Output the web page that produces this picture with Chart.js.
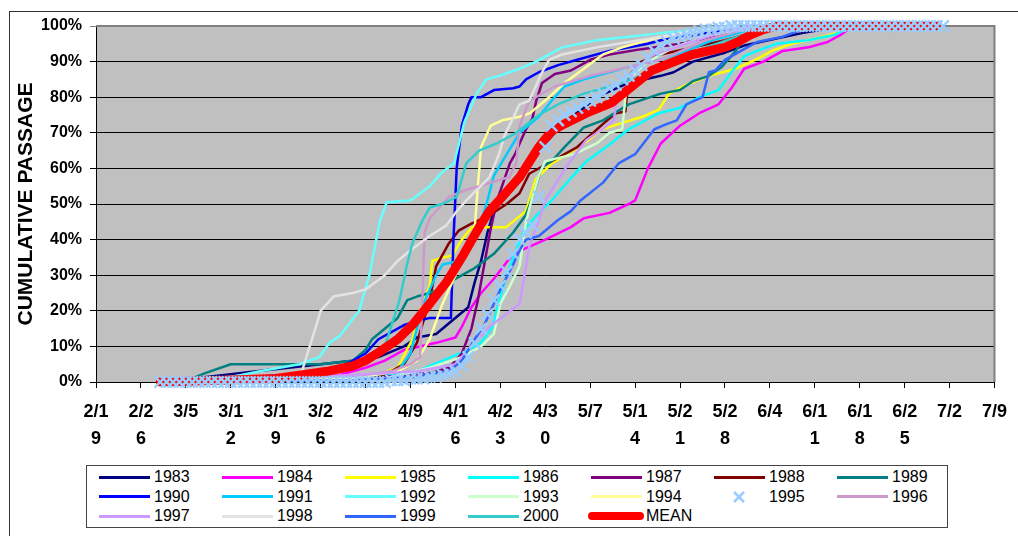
<!DOCTYPE html>
<html>
<head>
<meta charset="utf-8">
<script src="https://cdn.jsdelivr.net/npm/chart.js@4.4.1/dist/chart.umd.min.js"></script>
<style>
  html, body { margin: 0; padding: 0; background: #fff; overflow: hidden; }
  body { width: 1018px; height: 536px; position: relative; font-family: "Liberation Sans", Arial, sans-serif; }
  #frame { position: absolute; left: 9px; top: 11px; width: 1100px; height: 600px; border-left: 1px solid #333; border-top: 1px solid #333; }
  #wrap { position: absolute; left: 0; top: 0; width: 1018px; height: 536px; }
  #legend { position: absolute; left: 86px; top: 465px; width: 860px; height: 61px; border: 1px solid #444; background: #fff; }
  #legend .txt { position: absolute; font-size: 16px; line-height: 20px; color: #000; white-space: nowrap; }
  #legend .smp { position: absolute; }
</style>
</head>
<body>
<div id="frame"></div>
<div id="wrap"><canvas id="c" width="1018" height="536"></canvas></div>
<div id="legend"></div>
<script>
// x = days after 2/19, y = cumulative passage in %
const tickLabels = ['2/19','2/26','3/5','3/12','3/19','3/26','4/2','4/9','4/16','4/23','4/30',
                    '5/7','5/14','5/21','5/28','6/4','6/11','6/18','6/25','7/2','7/9'];

const s1983 = [[10,0],[15,1],[20,2],[25,3],[30,4],[35,5],[40,6],[44,7],[48,10],[50,12.5],[53,13.5],[55,16.5],
  [58,21],[59,28],[60,34],[61,42],[62,48],[63,51],[66,58],[70,67],[73,73],[76,77],[78,80],[83,84],[88,86],
  [90,87],[93,90],[98,92.5],[101,94.5],[106,96.5],[110,98],[115,99.5],[118,100]];
const s1984 = [[10,0],[30,1],[38,2],[42,4],[45,6],[48,9],[53,11],[56,12.5],[57,15.5],[58.5,21],[60,25],[62,29],
  [65,36],[70,40],[74,43.5],[76,46],[80,47.5],[83,50],[84,51],[86,60],[88,67],[91,72],[94,75.5],[97,78],
  [99,82.5],[101,88],[104,90],[107,93],[111,94],[114,95.5],[116,97.5],[118,100]];
const s1985 = [[10,0],[35,0.5],[44,2],[47,4],[49.3,12],[50.5,20],[52,27],[52.4,34],[54,35],[55.5,35.5],[57,40],
  [58.6,43.5],[63.9,43.5],[67,48],[67.5,51],[68.5,57],[71.1,61.5],[75.3,66],[78.9,71],[81.5,72.5],[85.1,74.5],
  [87.7,76.5],[89.3,81],[92,83.5],[95.5,86],[99.7,88],[103.3,91],[105.3,93],[108.4,95],[112.2,96.5],[115.3,98],[118,100]];
const s1986 = [[10,0],[40,1],[50,3],[54,6],[58,9],[60,11],[61.8,15.5],[62.4,20],[63.5,27],[65,35],[66.8,43],
  [68.5,46.5],[71,51],[74.1,57.5],[76.4,62],[79.5,66],[83,71],[87.7,75.5],[91,77],[94,80],[97,82],[99,87],
  [101,91.5],[103,93],[106,95],[111,96],[115,97.5],[118,100]];
const s1987 = [[10,0],[35,1],[45,1.5],[52,2.5],[55,4],[57,8],[58.5,15],[59.5,23],[60.5,33],[61.5,43],[62.5,51],
  [64.5,61.5],[65.3,64],[66,67],[67,71],[68,74],[68.6,79],[69.5,84],[71.5,86.5],[74,87.5],[77,90.5],[80,92],
  [85,93.5],[91,95],[96,97],[100,99],[104,100]];
const s1988 = [[10,0],[40,1],[45,2],[48,5],[50,11],[52,23],[53,32.5],[55,39],[56.5,42.5],[58.5,44.5],[61,46.5],
  [64,50],[66,53],[67.5,58.5],[71,62],[75,66],[79,72.5],[81,75.5],[82.5,76],[83,86],[84,88],[85,90],[88,92],
  [93,94],[98,96],[102,98],[106,100]];
const s1989 = [[10,0],[15,1],[17,2.5],[21,5],[35,5],[40,6],[42,9],[43,12],[44,13.5],[47,18],[48.5,23],[50,24],
  [52,25],[53.5,26],[55,28],[59,32],[62,36],[65,42],[67,47],[68,52],[69.5,60.5],[71,62],[73,66],[76,71.5],
  [79,73.5],[83,78],[88,81],[91,82],[93,84.5],[95.5,86],[97.5,88.5],[99.7,93],[100.7,96],[104,99],[108,100]];
const s1990 = [[10,0],[30,2],[38,4],[42,8],[44,12],[48,16],[52,18],[55.3,18],[55.7,40],[56.2,60],[57,72],[58,78],
  [58.5,80],[60,80],[62,82],[65,82.5],[66,83],[67,85],[69,87],[72,89],[75,90.5],[80,93],[86,95],[88,96],
  [95,98],[100,99],[104,100]];
const s1991 = [[10,0],[40,1],[47,3],[49,8],[50,15],[51,22],[53,30],[54,33],[56.5,34],[58,40],[60,45],[61,51],
  [62,58],[64,64],[66,70],[69,74.5],[71,79],[73,83],[76,85],[79,86.5],[83,88.5],[88,90.5],[92,93],[96,96],
  [100,98],[104,100]];
const s1992 = [[10,0],[20,1],[25.5,3],[31.7,5],[34.8,7],[36.4,11],[38,13],[41,20],[42.6,30],[44.2,45],[45.3,50.5],
  [49,51],[52,55],[54,59],[55.8,61.5],[57.4,73],[59.3,81],[60.8,85],[62.8,86],[66,88],[68.6,90],[72.6,94],
  [78,96],[83,97],[88,98],[95,99],[100,100]];
const s1993 = [[10,0],[45,1],[52,4],[57,7],[60,10],[62,13.5],[63,22],[64.5,27],[66,32.5],[67,45],[68,52],[69,58],
  [70,62],[74.5,64],[78,67],[80,70],[82,71],[82.5,80],[83.5,86],[86,90],[90,94],[95,97],[100,99],[104,100]];
const s1994 = [[10,0],[40,1],[47,3],[50,6],[52,12],[54,22],[56,30],[58,38],[59,43],[59.5,55],[60,66],[61.5,72],
  [63.3,73.5],[66,74.5],[67.6,75.5],[70.6,80],[73,84],[76,88],[79,92],[82,94],[86,96],[91,98],[96,99.5],[100,100]];
// 1995 is plotted daily with markers, starting on day 10
const start1995 = 10;
const pct1995 = [0,0,0,0,0,0,0,0,0,0, 0,0,0,0,0,0,0,0,0,0, 0,0,0,0,0,0,0,0,0,0, 0,0,0,0,0,0,
  0.5,0.5,0.5,1,1,1,1.5,1.5,2,2.5,3,4.5,7,11,15,19,23,27,31,36,40,42,44,52,66,72,73.5,75,76,77,78,79,80,81,
  82.5,83.5,85,86,87.5,89,91,93,94.5,95.5,96.5,97,97.5,98,98.5,99,99,99.5,99.5,
  100,100,100,100,100,100,100,100,100,100, 100,100,100,100,100,100,100,100,100,100,
  100,100,100,100,100,100,100,100,100,100, 100,100,100,100];
const s1996 = [[10,0],[30,1],[42,2],[46,3],[49,5],[50.5,7],[50.8,20],[51.2,42],[52,46],[54,50],[55,52],[57.7,54],
  [59.7,55],[63.3,57],[64.4,57.5],[65.5,61.5],[66,72],[67.5,79],[71.5,83],[77,86],[83,88.5],[88,90.5],[95,96],
  [100,98.5],[104,100]];
const s1997 = [[10,0],[25,1],[40,2],[50,3],[56,5],[61.3,15.5],[66,22],[67.5,38],[69,45.5],[70,51],[73.3,60.5],
  [76.4,68],[78.9,71],[80.7,73.5],[81,78],[81.8,80],[84,88],[87,92],[92,95],[97,98],[102,100]];
const s1998 = [[10,0],[30,1],[32,2.5],[34,14],[35,20],[37,24],[40,25],[42,26],[45,30],[47,34],[49,37],[52,41],
  [54.6,44],[56,47.5],[57.7,51],[61.3,57.5],[62.8,64],[63.6,69],[66,78],[67.5,79],[69.5,87],[70.6,90.5],
  [72.6,92],[78,94],[83,95.5],[88,97],[95,99],[100,100]];
const s1999 = [[10,0],[40,0.5],[50,1.5],[55,3],[57,6],[59,12],[60.5,16],[62,22],[63,26],[65,33],[66,37],[67,40],
  [69,41],[72,45.5],[74,48],[75.5,51],[79,56],[81.5,61.5],[84,64],[87,71],[89,72.5],[90.5,73.5],[92,78],
  [94.5,80],[95.5,87],[96.5,87.5],[98,90.5],[100.5,93],[103,95.5],[107,97],[110,99],[112,100]];
const s2000 = [[10,0],[30,1],[38,3],[42,6],[45,10],[47.3,23],[48.4,32.5],[49.3,39],[50.9,45.5],[52,49],[54,50],
  [56.2,52],[57.7,61.5],[59.7,65],[62.4,67],[65.5,70],[69,75],[72,78],[76,81],[80,83],[85,86],[90,90],[95,94],
  [100,97],[105,99],[110,100]];
const sMean = [[10,0],[20,0.5],[28,1],[32,2],[36,3],[40,4.5],[42,6],[44.2,8.5],[47,12],[49.3,16],[52,22],
  [54.6,28],[57,35],[59.7,43.5],[61.3,48],[62.8,51],[66,57.5],[69,66],[71,70.5],[73,72.5],[76.4,75.5],[80.4,78.5],
  [83.5,83],[86.6,87.5],[92.9,92],[98,94],[100,95.5],[102,97.5],[104,99],[106,100],[131,100]];

const series = [
  ['1983', s1983, '#000080'], ['1984', s1984, '#FF00FF'], ['1985', s1985, '#FFFF00'], ['1986', s1986, '#00FFFF'],
  ['1987', s1987, '#800080'], ['1988', s1988, '#800000'], ['1989', s1989, '#008080'], ['1990', s1990, '#0000FF'],
  ['1991', s1991, '#00CCFF'], ['1992', s1992, '#66FFFF'], ['1993', s1993, '#CCFFCC'], ['1994', s1994, '#FFFF99'],
  ['1995', null, '#99CCFF'], ['1996', s1996, '#CC99CC'], ['1997', s1997, '#CC99FF'], ['1998', s1998, '#E3E3E3'],
  ['1999', s1999, '#3366FF'], ['2000', s2000, '#33CCCC'], ['MEAN', sMean, '#FF0000']
];

const datasets = series.map(([label, pts, color], i) => {
  if (label === '1995') {
    return {
      label, data: pct1995.map((y, k) => ({ x: start1995 + k, y })),
      showLine: false, pointStyle: 'crossRot', pointRadius: 8, pointBorderWidth: 2.5,
      pointBorderColor: color, borderColor: color, order: 0, clip: false
    };
  }
  const isMean = label === 'MEAN';
  return {
    label, data: pts.map(([x, y]) => ({ x, y })),
    borderColor: color, borderWidth: isMean ? 9 : 2.5, pointRadius: 0, tension: 0, fill: false,
    borderCapStyle: isMean ? 'round' : 'butt', borderJoinStyle: 'round',
    order: isMean ? 1 : 100 - i, clip: false
  };
});

const plotBg = {
  id: 'plotBg',
  beforeDraw(chart) {
    const { ctx, chartArea: a } = chart;
    ctx.save();
    ctx.fillStyle = '#C0C0C0';
    ctx.fillRect(a.left, a.top, a.right - a.left, a.bottom - a.top);
    ctx.restore();
  },
  beforeDatasetsDraw(chart) {
    const { ctx, chartArea: a } = chart;
    ctx.save();
    ctx.strokeStyle = '#808080';
    ctx.lineWidth = 2;
    ctx.beginPath();
    ctx.moveTo(a.left, a.top);
    ctx.lineTo(a.right, a.top);
    ctx.lineTo(a.right, a.bottom);
    ctx.stroke();
    ctx.restore();
  }
};

new Chart(document.getElementById('c'), {
  type: 'line',
  data: { datasets },
  plugins: [plotBg],
  options: {
    responsive: false,
    animation: false,
    devicePixelRatio: 1,
    layout: { padding: { left: 0, right: 23, top: 26, bottom: 84 } },
    plugins: { legend: { display: false }, tooltip: { enabled: false } },
    scales: {
      x: {
        type: 'linear', min: 0, max: 140,
        afterFit(scale) { scale.height = 70; },
        grid: { drawOnChartArea: false, drawTicks: true, tickLength: 6, color: '#000' },
        border: { color: '#000', width: 1 },
        ticks: {
          stepSize: 7, autoSkip: false, maxRotation: 0, minRotation: 0, padding: 11, color: '#000',
          font: { family: '"Liberation Sans", Arial, sans-serif', size: 18, weight: 'bold', lineHeight: 1.5 },
          callback(v) {
            const t = tickLabels[Math.round(v / 7)];
            return t.length > 3 ? [t.slice(0, 3), t.slice(3)] : t;
          }
        }
      },
      y: {
        min: 0, max: 100,
        afterFit(scale) { scale.width = 96; },
        grid: { color: c => (c.tick && c.tick.value === 100 ? '#808080' : '#000'), tickLength: 6 },
        border: { color: '#000', width: 1 },
        ticks: {
          stepSize: 10, padding: 8, color: '#000',
          font: { family: '"Liberation Sans", Arial, sans-serif', size: 16, weight: 'bold' },
          callback: v => v + '%'
        },
        title: {
          display: true, text: 'CUMULATIVE PASSAGE', color: '#000', padding: { top: 14, bottom: 0 },
          font: { family: '"Liberation Sans", Arial, sans-serif', size: 21, weight: 'bold', lineHeight: 1.2 }
        }
      }
    }
  }
});

// legend laid out like the original: 7 columns, 3 rows
const legendEl = document.getElementById('legend');
series.forEach(([label, , color], i) => {
  const col = i % 7, row = Math.floor(i / 7);
  const textLeft = 67 + 123 * col;
  const cy = 11 + 19.5 * row;
  const txt = document.createElement('div');
  txt.className = 'txt';
  txt.textContent = label;
  txt.style.left = textLeft + 'px';
  txt.style.top = (cy - 10) + 'px';
  legendEl.appendChild(txt);
  const smp = document.createElement('div');
  smp.className = 'smp';
  if (label === '1995') {
    smp.innerHTML = '<svg width="14" height="14"><line x1="2" y1="2" x2="12" y2="12" stroke="' + color +
      '" stroke-width="2.5"/><line x1="12" y1="2" x2="2" y2="12" stroke="' + color + '" stroke-width="2.5"/></svg>';
    smp.style.left = (textLeft - 37) + 'px';
    smp.style.top = (cy - 7) + 'px';
    smp.style.height = '14px';
  } else if (label === 'MEAN') {
    smp.style.left = (textLeft - 58) + 'px';
    smp.style.width = '56px';
    smp.style.top = (cy - 4) + 'px';
    smp.style.height = '8px';
    smp.style.borderRadius = '4px';
    smp.style.background = color;
  } else {
    smp.style.left = (textLeft - 55) + 'px';
    smp.style.width = '51px';
    smp.style.top = (cy - 1.5) + 'px';
    smp.style.height = '3px';
    smp.style.background = color;
  }
  legendEl.appendChild(smp);
});
</script>
</body>
</html>
